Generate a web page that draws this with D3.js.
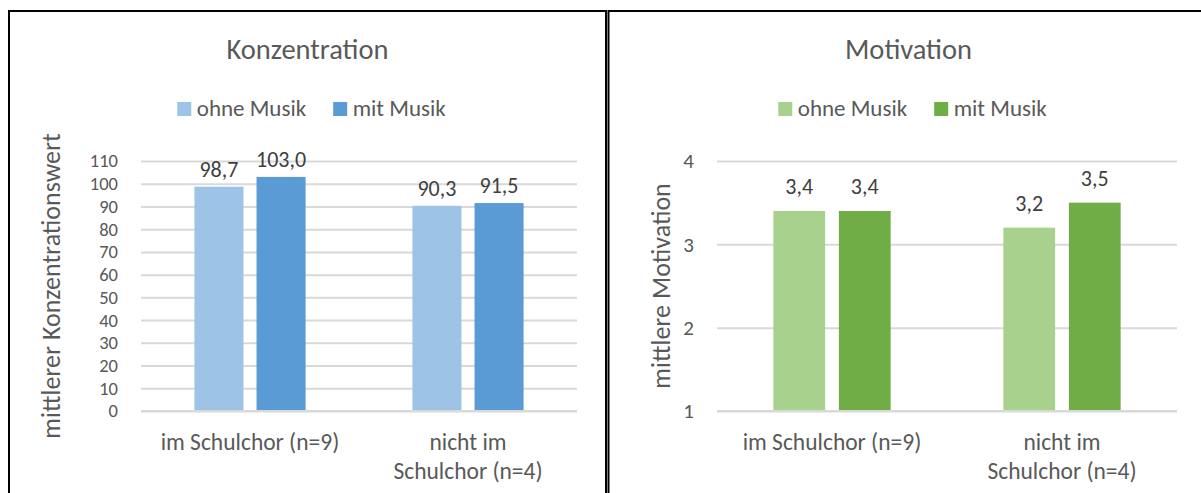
<!DOCTYPE html>
<html>
<head>
<meta charset="utf-8">
<script src="https://cdn.jsdelivr.net/npm/d3@7"></script>
<style>
  html, body { margin: 0; padding: 0; background: #fff; }
  svg { display: block; }
</style>
</head>
<body>
<script>
// Kategorien (Zeilenumbruch mit \n) und Reihen
const categories = ["im Schulchor (n=9)", "nicht im\nSchulchor (n=4)"];
const seriesNames = ["ohne Musik", "mit Musik"];

// Konzentration: Mittelwerte je Gruppe
const konzOhneMusik = [98.7, 90.3];
const konzMitMusik = [103.0, 91.5];
const konzTicks = [0, 10, 20, 30, 40, 50, 60, 70, 80, 90, 100, 110];

// Motivation: Mittelwerte je Gruppe
const motOhneMusik = [3.4, 3.2];
const motMitMusik = [3.4, 3.5];
const motTicks = [1, 2, 3, 4];

const FONT = "Carlito, Calibri, Lato, 'Open Sans', sans-serif";
const TEXT = "#595959";
const GRID = "#D9D9D9";

const de = d3.formatLocale({ decimal: ",", thousands: ".", grouping: [3], currency: ["", " €"] });
const fmtValue = de.format(".1f");

const svg = d3.select("body").append("svg")
  .attr("width", 1201)
  .attr("height", 493);

function drawPanel(cfg) {
  const g = svg.append("g");

  // Rahmen der Tabellenzelle
  g.append("rect")
    .attr("x", cfg.box[0]).attr("y", cfg.box[1])
    .attr("width", cfg.box[2]).attr("height", cfg.box[3])
    .attr("fill", "#fff").attr("stroke", "#000").attr("stroke-width", 2);

  const cx = cfg.box[0] + cfg.box[2] / 2;

  const x0 = d3.scaleBand().domain(categories).range([cfg.left, cfg.right]);
  const x1 = d3.scaleBand().domain(seriesNames)
    .range([0, x0.bandwidth()])
    .paddingInner(0.21).paddingOuter(0.86);
  const y = d3.scaleLinear().domain(cfg.domain).range([411, 161]);

  // Titel
  g.append("text")
    .attr("x", cx).attr("y", 59)
    .attr("text-anchor", "middle")
    .attr("font-family", FONT).attr("font-size", 28.5)
    .attr("fill", TEXT)
    .text(cfg.title);

  // Legende
  const leg = g.append("g");
  let lx = 0;
  seriesNames.forEach((name, i) => {
    leg.append("rect")
      .attr("x", lx).attr("y", 102)
      .attr("width", 14).attr("height", 14)
      .attr("fill", cfg.colors[i]);
    const t = leg.append("text")
      .attr("x", lx + 19.5).attr("y", 116)
      .attr("font-family", FONT).attr("font-size", 23)
      .attr("fill", TEXT)
      .text(name);
    lx += 19.5 + t.node().getComputedTextLength() + 27;
  });
  const legW = lx - 27;
  leg.attr("transform", `translate(${cx + 4 - legW / 2},0)`);

  // Gitterlinien und Achsenbeschriftung
  const axis = d3.axisLeft(y)
    .tickValues(cfg.ticks)
    .tickSize(-(cfg.right - cfg.left))
    .tickPadding(23)
    .tickFormat(d3.format("d"));
  const ag = g.append("g")
    .attr("transform", `translate(${cfg.left},0)`)
    .call(axis)
    .attr("font-family", FONT)
    .attr("font-size", cfg.tickFont);
  ag.select(".domain").remove();
  ag.selectAll(".tick line").attr("stroke", GRID).attr("stroke-width", 2);
  ag.selectAll(".tick text").attr("fill", TEXT);

  // Balken
  const rows = categories.flatMap((c, ci) =>
    seriesNames.map((s, si) => ({ c, s, si, v: cfg.values[si][ci] })));

  g.append("g").selectAll("rect")
    .data(rows)
    .join("rect")
    .attr("x", d => x0(d.c) + x1(d.s))
    .attr("y", d => y(d.v))
    .attr("width", x1.bandwidth())
    .attr("height", d => y(cfg.domain[0]) - y(d.v))
    .attr("fill", d => cfg.colors[d.si]);

  // Grundlinie
  g.append("line")
    .attr("x1", cfg.left).attr("x2", cfg.right)
    .attr("y1", y(cfg.domain[0])).attr("y2", y(cfg.domain[0]))
    .attr("stroke", GRID).attr("stroke-width", 2);

  // Datenbeschriftungen
  g.append("g").selectAll("text")
    .data(rows)
    .join("text")
    .attr("x", d => x0(d.c) + x1(d.s) + x1.bandwidth() / 2)
    .attr("y", d => y(d.v) - cfg.labelGap)
    .attr("text-anchor", "middle")
    .attr("font-family", FONT).attr("font-size", 22)
    .attr("fill", "#404040")
    .text(d => fmtValue(d.v));

  // Kategorienbeschriftung
  const cg = g.append("g");
  categories.forEach(c => {
    const t = cg.append("text")
      .attr("text-anchor", "middle")
      .attr("font-family", FONT).attr("font-size", 23.5)
      .attr("fill", TEXT);
    c.split("\n").forEach((line, li) => {
      t.append("tspan")
        .attr("x", x0(c) + x0.bandwidth() / 2)
        .attr("y", 450 + li * 29)
        .text(line);
    });
  });

  // Y-Achsentitel
  g.append("text")
    .attr("transform", `translate(${cfg.yTitleX},286) rotate(-90)`)
    .attr("text-anchor", "middle")
    .attr("font-family", FONT).attr("font-size", 26)
    .attr("fill", TEXT)
    .text(cfg.yTitle);
}

drawPanel({
  box: [9, 11, 597, 492],
  left: 141, right: 577,
  domain: [0, 110], ticks: konzTicks,
  values: [konzOhneMusik, konzMitMusik],
  colors: ["#9DC3E6", "#5B9BD5"],
  title: "Konzentration",
  yTitle: "mittlerer Konzentrationswert",
  yTitleX: 60,
  labelGap: 10,
  tickFont: 18.5
});

drawPanel({
  box: [608.5, 11, 600, 492],
  left: 717, right: 1177,
  domain: [1, 4], ticks: motTicks,
  values: [motOhneMusik, motMitMusik],
  colors: ["#A9D18E", "#70AD47"],
  title: "Motivation",
  yTitle: "mittlere Motivation",
  yTitleX: 670,
  labelGap: 17,
  tickFont: 21
});
</script>
</body>
</html>
